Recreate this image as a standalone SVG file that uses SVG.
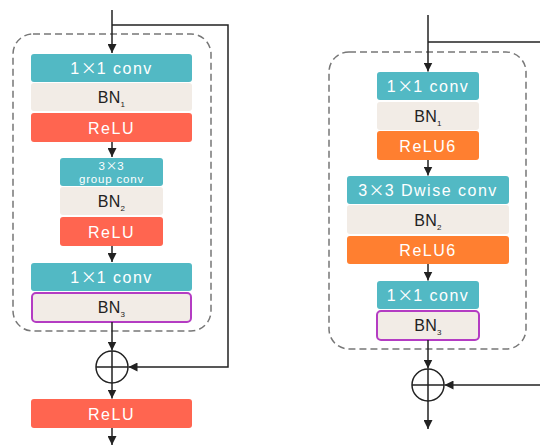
<svg xmlns="http://www.w3.org/2000/svg" width="540" height="445" viewBox="0 0 540 445">
<defs>
<marker id="ah" viewBox="0 0 10 10" refX="10" refY="5" markerWidth="9" markerHeight="9" markerUnits="userSpaceOnUse" orient="auto">
<path d="M0,0 L10,5 L0,10 Z" fill="#222"/>
</marker>
<style>
.conv{fill:#52B9C4}
.bn{fill:#F2ECE6}
.relu{fill:#FF6550}
.relu6{fill:#FF7F30}
.bn3{fill:#F2ECE6;stroke:#B43CC3;stroke-width:2}
.dash{fill:none;stroke:#777;stroke-width:1.5;stroke-dasharray:7 4}
.w{font-family:"Liberation Sans",Arial,sans-serif;font-size:16px;fill:#fff;text-anchor:middle;letter-spacing:1.5px}
.k{font-family:"Liberation Sans",Arial,sans-serif;font-size:16px;fill:#222;text-anchor:middle;letter-spacing:0.3px}
.s{font-family:"Liberation Sans",Arial,sans-serif;font-size:11.5px;fill:#fff;text-anchor:middle;letter-spacing:0.8px}
.x{font-family:"Noto Sans CJK SC","Liberation Sans",sans-serif;letter-spacing:0}
.ln{fill:none;stroke:#222;stroke-width:1.5}
</style>
</defs>
<rect class="dash" x="13" y="34" width="198" height="297" rx="20"/>
<rect class="dash" x="329" y="52" width="197" height="297" rx="20"/>
<g id="left-conv1"><rect class="conv" x="31" y="54" width="161" height="28" rx="3"/><text class="w" x="111.5" y="74">1<tspan class="x">×</tspan>1  conv</text></g>
<g id="left-bn1"><rect class="bn" x="31" y="83" width="161" height="28" rx="3"/><text class="k" x="111.5" y="103">BN<tspan font-size="8" dy="4">1</tspan></text></g>
<g id="left-relu1"><rect class="relu" x="31" y="113" width="161" height="29" rx="3"/><text class="w" x="111.5" y="133.5">ReLU</text></g>
<g id="left-gconv"><rect class="conv" x="60" y="158" width="103" height="28" rx="3"/><text class="s" x="111.5" y="169.5">3<tspan class="x">×</tspan>3</text><text class="s" x="111.5" y="182.5">group conv</text></g>
<g id="left-bn2"><rect class="bn" x="60" y="187" width="103" height="28" rx="3"/><text class="k" x="111.5" y="207">BN<tspan font-size="8" dy="4">2</tspan></text></g>
<g id="left-relu2"><rect class="relu" x="60" y="217" width="103" height="29" rx="3"/><text class="w" x="111.5" y="237.5">ReLU</text></g>
<g id="left-conv3"><rect class="conv" x="31" y="263" width="161" height="28" rx="3"/><text class="w" x="111.5" y="283">1<tspan class="x">×</tspan>1  conv</text></g>
<g id="left-bn3"><rect class="bn3" x="32" y="293" width="159" height="29" rx="4"/><text class="k" x="111.5" y="313">BN<tspan font-size="8" dy="4">3</tspan></text></g>
<g id="left-add"><circle cx="112" cy="367" r="16" fill="none" stroke="#222" stroke-width="1.5"/><path class="ln" d="M96,367 H128 M112,351 V383"/></g>
<g id="left-relu3"><rect class="relu" x="31" y="399" width="161" height="29" rx="3"/><text class="w" x="111.5" y="419.5">ReLU</text></g>
<g id="right-conv1"><rect class="conv" x="377" y="72" width="102" height="28" rx="3"/><text class="w" x="428" y="92">1<tspan class="x">×</tspan>1  conv</text></g>
<g id="right-bn1"><rect class="bn" x="377" y="102" width="102" height="28" rx="3"/><text class="k" x="428" y="122">BN<tspan font-size="8" dy="4">1</tspan></text></g>
<g id="right-relu1"><rect class="relu6" x="377" y="131" width="102" height="29" rx="3"/><text class="w" x="428" y="151.5">ReLU6</text></g>
<g id="right-dconv"><rect class="conv" x="347" y="176" width="162" height="28" rx="3"/><text class="w" x="428" y="196">3<tspan class="x">×</tspan>3 Dwise conv</text></g>
<g id="right-bn2"><rect class="bn" x="347" y="205" width="162" height="29" rx="3"/><text class="k" x="428" y="225.5">BN<tspan font-size="8" dy="4">2</tspan></text></g>
<g id="right-relu2"><rect class="relu6" x="347" y="236" width="162" height="28" rx="3"/><text class="w" x="428" y="256">ReLU6</text></g>
<g id="right-conv3"><rect class="conv" x="377" y="281" width="102" height="28" rx="3"/><text class="w" x="428" y="301">1<tspan class="x">×</tspan>1  conv</text></g>
<g id="right-bn3"><rect class="bn3" x="377" y="311" width="102" height="29" rx="4"/><text class="k" x="428" y="331">BN<tspan font-size="8" dy="4">3</tspan></text></g>
<g id="right-add"><circle cx="428" cy="385" r="16" fill="none" stroke="#222" stroke-width="1.5"/><path class="ln" d="M412,385 H444 M428,369 V401"/></g>
<g id="connectors">
<path class="ln" d="M112,10 V53" marker-end="url(#ah)"/>
<path class="ln" d="M112,25 H228 V367 H128.5" marker-end="url(#ah)"/>
<path class="ln" d="M112,142 V157" marker-end="url(#ah)"/>
<path class="ln" d="M112,246 V262" marker-end="url(#ah)"/>
<path class="ln" d="M112,322 V350.5" marker-end="url(#ah)"/>
<path class="ln" d="M112,383 V398.5" marker-end="url(#ah)"/>
<path class="ln" d="M112,428 V445" marker-end="url(#ah)"/>
<path class="ln" d="M428,15 V71.5" marker-end="url(#ah)"/>
<path class="ln" d="M428,42 H540"/>
<path class="ln" d="M428,160 V175.5" marker-end="url(#ah)"/>
<path class="ln" d="M428,264 V280.5" marker-end="url(#ah)"/>
<path class="ln" d="M428,340 V368.5" marker-end="url(#ah)"/>
<path class="ln" d="M540,385 H444.5" marker-end="url(#ah)"/>
<path class="ln" d="M428,401 V429" marker-end="url(#ah)"/>
</g>
</svg>
